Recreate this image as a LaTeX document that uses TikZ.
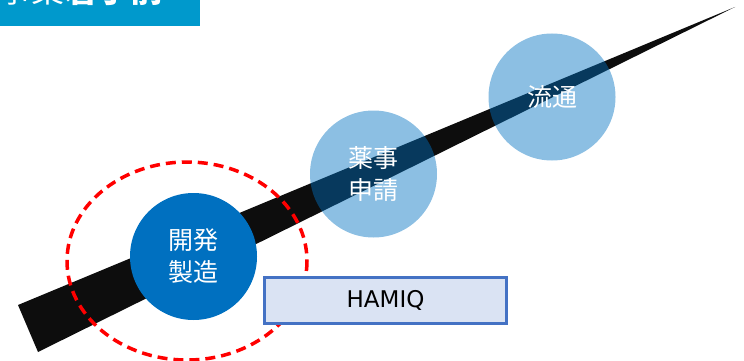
\documentclass[tikz,border=0pt]{standalone}
\usepackage{fontspec}
\setmainfont{Noto Sans CJK JP}
\newfontfamily\latinfont{DejaVu Sans}
\definecolor{banner}{HTML}{0099CC}
\definecolor{darkblue}{HTML}{0070C0}
\definecolor{bandblack}{HTML}{0D0D0D}
\definecolor{boxfill}{HTML}{DAE3F3}
\definecolor{boxline}{HTML}{4472C4}
\tikzset{
  stage/.style={circle, minimum size=127pt, inner sep=0pt, text=white,
    font=\fontsize{25}{32}\selectfont, align=center},
  stagelight/.style={stage, fill=darkblue, fill opacity=0.45, text opacity=1},
  stagedark/.style={stage, fill=darkblue},
  focus/.style={draw=red, line width=3.5pt, dash pattern=on 10pt off 6pt},
  toolbox/.style={draw=boxline, fill=boxfill, line width=3pt, minimum width=242pt,
    minimum height=46pt, inner sep=0pt, font=\latinfont\fontsize{23}{28}\selectfont}
}
\begin{document}
\begin{tikzpicture}[x=1pt,y=-1pt]
\useasboundingbox (0,0) rectangle (744,361);
\clip (0,0) rectangle (744,361);
% banner
\fill[banner] (0,-10) rectangle (200,26);
\node[anchor=base west, inner sep=0pt, text=white, font=\fontsize{33}{33}\selectfont] (title) at (-2,3) {事業\textbf{着手前}};
% tapered band
\fill[bandblack] (18,305) -- (735,7) -- (38,352) -- cycle;
% stages
\node[stagedark] (dev) at (193.5,256.5) {開発\\製造};
\node[stagelight] (reg) at (373.5,174) {薬事\\申請};
\node[stagelight] (dist) at (552,97) {流通};
% focus ellipse
\draw[focus] (187,261) ellipse [x radius=120, y radius=99];
% HAMIQ box
\node[toolbox] (hamiq) at (385.5,300.5) {HAMIQ};
\end{tikzpicture}
\end{document}
